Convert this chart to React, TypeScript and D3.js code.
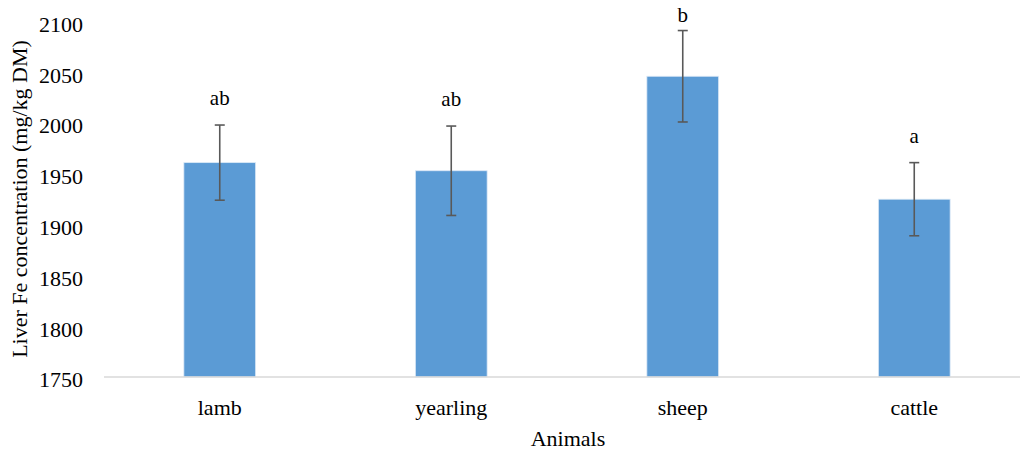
import React from "react";
import * as d3 from "d3";

const categories = ["lamb", "yearling", "sheep", "cattle"];
const means = [1961, 1953, 2046, 1925];
const errors = [37, 44, 45, 36];
const letters = ["ab", "ab", "b", "a"];
const yTicks = [1750, 1800, 1850, 1900, 1950, 2000, 2050, 2100];

const W = 1020;
const H = 452;
const left = 104;
const right = 1030;
const top = 21.4;
const bottom = 377;
const font = "'Liberation Serif', 'Times New Roman', serif";

export default function App() {
  const x = d3.scaleBand<string>().domain(categories).range([left, right]).paddingInner(0.69).paddingOuter(0.345);
  const y = d3.scaleLinear().domain([1750, 2100]).range([bottom, top]);
  return (
    <svg width={W} height={H} style={{ position: "absolute", left: 0, top: 0, background: "#fff" }} fontFamily={font}>
      <rect x={0} y={0} width={W} height={H} fill="#fff" />
      {categories.map((c, i) => {
        const bx = x(c)!;
        const cx = bx + x.bandwidth() / 2;
        const ty = y(means[i] + errors[i]);
        return (
          <g key={c}>
            <rect x={bx} y={y(means[i])} width={x.bandwidth()} height={y(1750) - y(means[i])} fill="#5B9BD5" stroke="#dce9f6" strokeWidth={0.8} />
            <line x1={cx} x2={cx} y1={ty} y2={y(means[i] - errors[i])} stroke="#595959" strokeWidth={1.6} />
            <line x1={cx - 5} x2={cx + 5} y1={ty} y2={ty} stroke="#595959" strokeWidth={1.6} />
            <line x1={cx - 5} x2={cx + 5} y1={y(means[i] - errors[i])} y2={y(means[i] - errors[i])} stroke="#595959" strokeWidth={1.6} />
            <text x={cx} y={Math.max(ty - 20, 22)} textAnchor="middle" fontSize={21} fill="#000">{letters[i]}</text>
            <text x={cx} y={415} textAnchor="middle" fontSize={22} fill="#000">{c}</text>
          </g>
        );
      })}
      <line x1={left} x2={right} y1={bottom} y2={bottom} stroke="#d9d9d9" strokeWidth={1.5} />
      {yTicks.map((t) => (
        <text key={t} x={83} y={y(t) + 10.3} textAnchor="end" fontSize={22} fill="#000">{t}</text>
      ))}
      <text transform={`translate(27,199) rotate(-90)`} textAnchor="middle" fontSize={22} fill="#000">Liver Fe concentration (mg/kg DM)</text>
      <text x={568} y={446} textAnchor="middle" fontSize={22} fill="#000">Animals</text>
    </svg>
  );
}
